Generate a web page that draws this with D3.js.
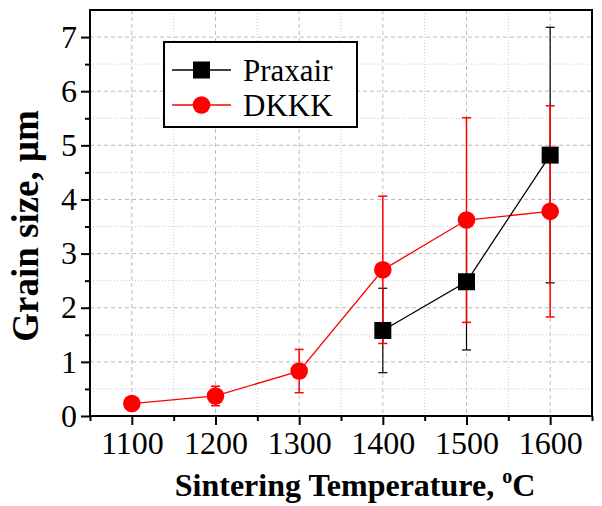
<!DOCTYPE html>
<html>
<head>
<meta charset="utf-8">
<script src="https://cdn.jsdelivr.net/npm/d3@7"></script>
<style>
  body { margin: 0; background: #fff; }
  svg text { font-family: 'Liberation Serif', 'Tinos', 'DejaVu Serif', 'Times New Roman', Times, serif; }
</style>
</head>
<body>
<div id="chart"></div>
<script>
var width = 602;
var height = 506;
var margin = {top: 10, right: 10, bottom: 90, left: 90};
var w = width - margin.left - margin.right;
var h = height - margin.top - margin.bottom;
var serif = "'Liberation Serif', 'Tinos', 'DejaVu Serif', 'Times New Roman', Times, serif";

// data
var praxairTemp = [1400, 1500, 1600];
var praxairSize = [1.58, 2.48, 4.82];
var praxairErr = [0.78, 1.26, 2.36];

var dkkkTemp = [1100, 1200, 1300, 1400, 1500, 1600];
var dkkkSize = [0.23, 0.37, 0.83, 2.70, 3.62, 3.78];
var dkkkErr = [0.02, 0.18, 0.40, 1.36, 1.89, 1.95];

var xTicks = [1100, 1200, 1300, 1400, 1500, 1600];
var xMinor = [1050, 1150, 1250, 1350, 1450, 1550, 1650];
var yTicks = [0, 1, 2, 3, 4, 5, 6, 7];
var yMinor = [0.5, 1.5, 2.5, 3.5, 4.5, 5.5, 6.5];

var svg = d3.select("#chart").append("svg")
  .attr("width", width)
  .attr("height", height)
  .attr("font-family", serif);

var g = svg.append("g")
  .attr("transform", "translate(" + margin.left + "," + margin.top + ")");

var x = d3.scaleLinear().domain([1050, 1650]).range([0, w]);
var y = d3.scaleLinear().domain([0, 7.5]).range([h, 0]);

// grid
g.append("g").selectAll("line").data(xTicks).enter().append("line")
  .attr("x1", function(d) { return x(d); }).attr("x2", function(d) { return x(d); })
  .attr("y1", 0).attr("y2", h)
  .attr("stroke", "#bdbdbd").attr("stroke-width", 1).attr("stroke-dasharray", "4,3");
g.append("g").selectAll("line").data(xMinor.slice(1, -1)).enter().append("line")
  .attr("x1", function(d) { return x(d); }).attr("x2", function(d) { return x(d); })
  .attr("y1", 0).attr("y2", h)
  .attr("stroke", "#c8c8c8").attr("stroke-width", 1).attr("stroke-dasharray", "1,2");
g.append("g").selectAll("line").data(yTicks.slice(1)).enter().append("line")
  .attr("y1", function(d) { return y(d); }).attr("y2", function(d) { return y(d); })
  .attr("x1", 0).attr("x2", w)
  .attr("stroke", "#bdbdbd").attr("stroke-width", 1).attr("stroke-dasharray", "4,3");
g.append("g").selectAll("line").data(yMinor).enter().append("line")
  .attr("y1", function(d) { return y(d); }).attr("y2", function(d) { return y(d); })
  .attr("x1", 0).attr("x2", w)
  .attr("stroke", "#c8c8c8").attr("stroke-width", 1).attr("stroke-dasharray", "1,2");

// axes
var xAxis = d3.axisBottom(x).tickValues(xTicks).tickSize(9).tickPadding(6).tickFormat(d3.format("d"));
var xAxisMinor = d3.axisBottom(x).tickValues(xMinor).tickSize(5).tickFormat("");
var yAxis = d3.axisLeft(y).tickValues(yTicks).tickSize(9).tickPadding(4).tickFormat(d3.format("d"));
var yAxisMinor = d3.axisLeft(y).tickValues(yMinor).tickSize(5).tickFormat("");

function styleAxis(sel) {
  sel.attr("font-family", serif).attr("font-size", 32);
  sel.select(".domain").remove();
  sel.selectAll("line").attr("stroke", "#000").attr("stroke-width", 2);
  sel.selectAll("text").attr("fill", "#000");
}

g.append("g").attr("transform", "translate(0," + h + ")").call(xAxisMinor).call(styleAxis);
g.append("g").attr("transform", "translate(0," + h + ")").call(xAxis).call(styleAxis);
g.append("g").call(yAxisMinor).call(styleAxis);
g.append("g").call(yAxis).call(styleAxis);

// frame
g.append("rect")
  .attr("x", 0).attr("y", 0).attr("width", w).attr("height", h)
  .attr("fill", "none").attr("stroke", "#000").attr("stroke-width", 2);

// error bars
function errorBars(temps, vals, errs, color, sw) {
  var eb = g.append("g").attr("stroke", color).attr("stroke-width", sw);
  temps.forEach(function(t, i) {
    var top = y(vals[i] + errs[i]);
    var bot = y(Math.max(0, vals[i] - errs[i]));
    eb.append("line").attr("x1", x(t)).attr("x2", x(t)).attr("y1", top).attr("y2", bot);
    eb.append("line").attr("x1", x(t) - 4.5).attr("x2", x(t) + 4.5).attr("y1", top).attr("y2", top);
    eb.append("line").attr("x1", x(t) - 4.5).attr("x2", x(t) + 4.5).attr("y1", bot).attr("y2", bot);
  });
}
errorBars(praxairTemp, praxairSize, praxairErr, "#000", 1.2);
errorBars(dkkkTemp, dkkkSize, dkkkErr, "#ff0000", 1.5);

var line = d3.line()
  .x(function(d) { return x(d[0]); })
  .y(function(d) { return y(d[1]); });

var dkkkPts = d3.zip(dkkkTemp, dkkkSize);
var praxairPts = d3.zip(praxairTemp, praxairSize);

g.append("path").datum(dkkkPts).attr("d", line)
  .attr("fill", "none").attr("stroke", "#ff0000").attr("stroke-width", 1.3);
g.selectAll(".dk").data(dkkkPts).enter().append("circle")
  .attr("class", "dk")
  .attr("cx", function(d) { return x(d[0]); })
  .attr("cy", function(d) { return y(d[1]); })
  .attr("r", 8.8)
  .attr("fill", "#ff0000");

g.append("path").datum(praxairPts).attr("d", line)
  .attr("fill", "none").attr("stroke", "#000").attr("stroke-width", 1.3);
g.selectAll(".px").data(praxairPts).enter().append("rect")
  .attr("class", "px")
  .attr("x", function(d) { return x(d[0]) - 8.5; })
  .attr("y", function(d) { return y(d[1]) - 8.5; })
  .attr("width", 17).attr("height", 17)
  .attr("fill", "#000");

// legend
var legend = svg.append("g");
legend.append("rect")
  .attr("x", 164).attr("y", 42).attr("width", 193).attr("height", 85)
  .attr("fill", "#fff").attr("stroke", "#000").attr("stroke-width", 2);
legend.append("line").attr("x1", 172).attr("x2", 231).attr("y1", 70).attr("y2", 70)
  .attr("stroke", "#000").attr("stroke-width", 1.5);
legend.append("rect").attr("x", 193).attr("y", 61.5).attr("width", 17).attr("height", 17).attr("fill", "#000");
legend.append("line").attr("x1", 172).attr("x2", 231).attr("y1", 105).attr("y2", 105)
  .attr("stroke", "#ff0000").attr("stroke-width", 1.5);
legend.append("circle").attr("cx", 201.5).attr("cy", 105).attr("r", 8.8).attr("fill", "#ff0000");
legend.append("text").attr("x", 243).attr("y", 81).text("Praxair")
  .attr("font-size", 31).attr("fill", "#000");
legend.append("text").attr("x", 243).attr("y", 116).text("DKKK")
  .attr("font-size", 31).attr("fill", "#000");

// axis titles
var xt = svg.append("text")
  .attr("text-anchor", "middle")
  .attr("x", 355).attr("y", 496)
  .attr("font-size", 32).attr("font-weight", "bold");
xt.append("tspan").text("Sintering Temperature, ");
xt.append("tspan").text("o").attr("font-size", 20).attr("dy", -13);
xt.append("tspan").text("C").attr("dy", 13);

svg.append("text")
  .attr("text-anchor", "middle")
  .attr("transform", "translate(38," + 226 + ") rotate(-90)")
  .attr("font-size", 37).attr("font-weight", "bold")
  .text("Grain size, μm");
</script>
</body>
</html>
